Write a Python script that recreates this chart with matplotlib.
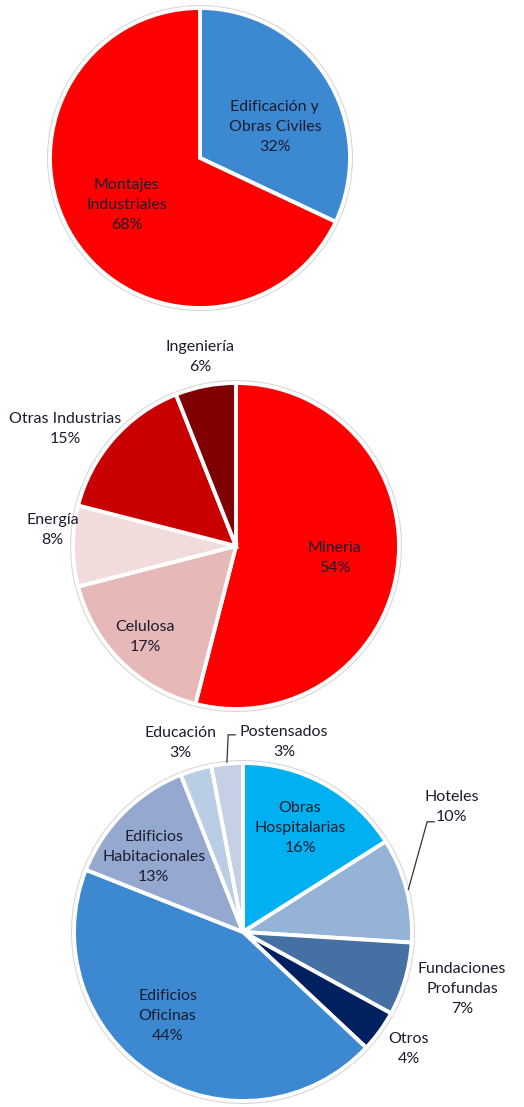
import numpy as np
import matplotlib
matplotlib.use("Agg")
import matplotlib.pyplot as plt
from matplotlib.patches import Circle

# chart 1: company segments
seg_labels = ["Edificación y\nObras Civiles", "Montajes\nIndustriales"]
seg_values = [32, 68]
seg_colors = ["#3C89D2", "#FF0000"]

# chart 2: industrial assembly by sector
ind_labels = ["Minería", "Celulosa", "Energía", "Otras Industrias", "Ingeniería"]
ind_values = [54, 17, 8, 15, 6]
ind_colors = ["#FF0000", "#E6B9B8", "#F2DCDB", "#C80000", "#800000"]

# chart 3: building & civil works by type
edi_labels = ["Obras\nHospitalarias", "Hoteles", "Fundaciones\nProfundas", "Otros",
              "Edificios\nOficinas", "Edificios\nHabitacionales", "Educación", "Postensados"]
edi_values = [16, 10, 7, 4, 44, 13, 3, 3]
edi_colors = ["#00B0F0", "#95B3D7", "#4470A4", "#002060",
              "#3C89D2", "#95A8D0", "#B9CDE5", "#C6D0E4"]

TXT = "#1c1c30"
FONT = "Lato"

W, H = 524, 1107
fig = plt.figure(figsize=(W / 100, H / 100), dpi=100)
ax = fig.add_axes([0, 0, 1, 1])
ax.set_xlim(0, W)
ax.set_ylim(0, H)
ax.set_aspect("equal")
ax.axis("off")


def draw_pie(center, radius, values, labels, colors, dists, shifts, leaders=None):
    # grey rim behind the pie, like the soft shadow in the original
    ax.add_patch(Circle(center, radius + 3, facecolor="#d6d6d6", edgecolor="none", zorder=0))
    wedges, _ = ax.pie(values, colors=colors, startangle=90, counterclock=False,
                       center=center, radius=radius, frame=True,
                       wedgeprops=dict(edgecolor="white", linewidth=2.8))
    total = sum(values)
    for i, w in enumerate(wedges):
        mid = (w.theta1 + w.theta2) / 2
        ang = np.deg2rad(mid + shifts[i])
        x = center[0] + dists[i] * radius * np.cos(ang)
        y = center[1] + dists[i] * radius * np.sin(ang)
        pct = round(100 * values[i] / total)
        ax.text(x, y, f"{labels[i]}\n{pct}%", ha="center", va="center",
                fontsize=11.5, color=TXT, family=FONT, linespacing=1.55, zorder=5)
        if leaders and i in leaders:
            d, a = leaders[i]
            m = np.deg2rad(mid)
            sx = center[0] + 1.01 * radius * np.cos(m)
            sy = center[1] + 1.01 * radius * np.sin(m)
            ex = center[0] + d * radius * np.cos(np.deg2rad(a))
            ey = center[1] + d * radius * np.sin(np.deg2rad(a))
            ax.plot([sx, ex, ex + 7], [sy, ey, ey], color="#333333", lw=0.9, zorder=4)


draw_pie((200, H - 158), 150, seg_values, seg_labels, seg_colors,
         [0.54, 0.58], [-10, 0])
draw_pie((236, H - 546), 163, ind_values, ind_labels, ind_colors,
         [0.61, 0.79, 1.13, 1.27, 1.18], [0, 0, -5, 7, 0])
draw_pie((243, H - 932), 169, edi_values, edi_labels, edi_colors,
         [0.70, 1.44, 1.34, 1.20, 0.67, 0.69, 1.18, 1.15],
         [0, 16.5, 1.6, 0.7, -9.4, 5, 2, -17.6],
         leaders={1: (1.27, 30.9), 7: (1.17, 94.3)})

ax.set_xlim(0, W)
ax.set_ylim(0, H)
ax.set_xticks([])
ax.set_yticks([])
for s in ax.spines.values():
    s.set_visible(False)

fig.savefig("out.png", dpi=100, facecolor="white")
